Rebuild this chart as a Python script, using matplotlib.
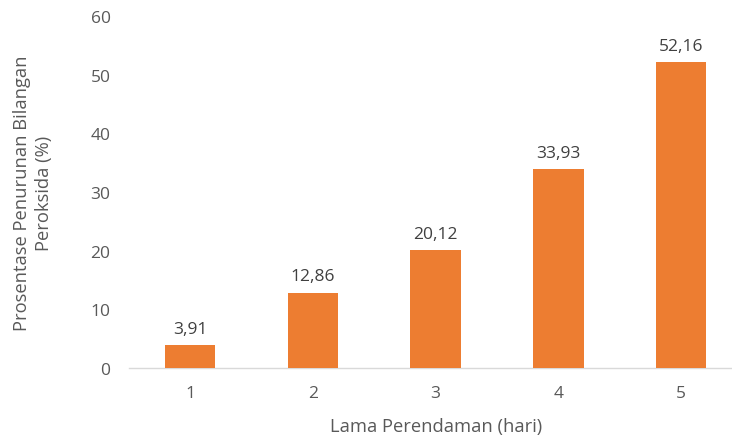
import matplotlib
matplotlib.use("Agg")
import matplotlib.pyplot as plt

categories = ["1", "2", "3", "4", "5"]
values = [3.91, 12.86, 20.12, 33.93, 52.16]
labels = ["3,91", "12,86", "20,12", "33,93", "52,16"]
yticks = [0, 10, 20, 30, 40, 50, 60]

plt.rcParams['font.family'] = ['Open Sans', 'DejaVu Sans']
gray = '#595959'

fig = plt.figure(figsize=(7.32, 4.39), dpi=100)
ax = fig.add_axes([128.6/732, 1-369/439, 614/732, 352/439])
x = list(range(1, len(categories)+1))
ax.bar(x, values, width=0.41, color='#ED7D31', zorder=3)
for xi, v, lab in zip(x, values, labels):
    ax.annotate(lab, (xi, v), xytext=(0, 6), textcoords='offset points',
                ha='center', va='bottom', fontsize=12.5, color='#404040')
ax.set_xlim(0.5, 5.5)
ax.set_ylim(0, 60)
ax.set_xticks(x)
ax.set_xticklabels(categories)
ax.set_yticks(yticks)
ax.tick_params(length=0, labelsize=12.5, colors=gray)
ax.tick_params(axis='x', pad=12)
ax.tick_params(axis='y', pad=13)
for s in ['top', 'right', 'left']:
    ax.spines[s].set_visible(False)
ax.spines['bottom'].set_color('#D9D9D9')
ax.spines['bottom'].set_linewidth(1.0)
ax.set_xlabel("Lama Perendaman (hari)", fontsize=13.2, color=gray, labelpad=12)
ax.set_ylabel("Prosentase Penurunan Bilangan\nPeroksida (%)", fontsize=13.2, color=gray,
              labelpad=27, linespacing=1.3)
fig.savefig("out.png", dpi=100)
